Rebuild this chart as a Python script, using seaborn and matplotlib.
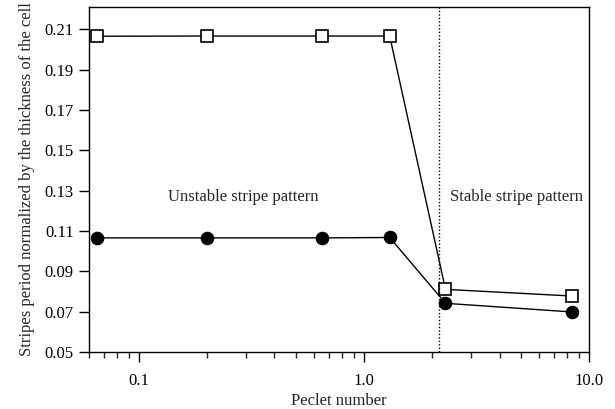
import matplotlib
matplotlib.use("Agg")
import matplotlib.pyplot as plt
import matplotlib.ticker as mticker
import seaborn as sns
import pandas as pd

peclet = [0.065, 0.2, 0.65, 1.3, 2.3, 8.4]
open_squares = [0.2065, 0.2066, 0.2066, 0.2066, 0.0811, 0.0778]
filled_circles = [0.1066, 0.1066, 0.1066, 0.1068, 0.0742, 0.0699]
threshold = 2.15
x_ticks = [0.1, 1.0, 10.0]
x_tick_labels = ["0.1", "1.0", "10.0"]
y_ticks = [0.05, 0.07, 0.09, 0.11, 0.13, 0.15, 0.17, 0.19, 0.21]

sns.set_style("ticks")
plt.rcParams["font.family"] = ["Liberation Serif", "DejaVu Serif"]

df_sq = pd.DataFrame({"Pe": peclet, "v": open_squares})
df_ci = pd.DataFrame({"Pe": peclet, "v": filled_circles})

fig = plt.figure(figsize=(6.15, 4.09), dpi=100)
ax = fig.add_axes([0.1447, 0.139, 0.8133, 0.844])

sns.lineplot(data=df_ci, x="Pe", y="v", ax=ax, color="black", lw=1.0,
             marker="o", markersize=9, markerfacecolor="black",
             markeredgecolor="black", estimator=None, sort=False)
sns.lineplot(data=df_sq, x="Pe", y="v", ax=ax, color="black", lw=1.0,
             marker="s", markersize=8.5, markerfacecolor="white",
             markeredgecolor="black", markeredgewidth=1.2,
             estimator=None, sort=False)

ax.axvline(threshold, color="black", ls=(0, (1, 1.5)), lw=1.0)

ax.set_xscale("log")
ax.set_xlim(0.06, 10.0)
ax.set_ylim(0.05, 0.221)
ax.set_xticks(x_ticks)
ax.set_xticklabels(x_tick_labels)
ax.xaxis.set_minor_locator(mticker.LogLocator(base=10, subs=range(2, 10)))
ax.xaxis.set_minor_formatter(mticker.NullFormatter())
ax.set_yticks(y_ticks)
ax.yaxis.set_major_formatter(mticker.FormatStrFormatter("%.2f"))

ax.tick_params(axis="both", which="major", direction="out", length=7,
               width=1.0, labelsize=12, colors="black", pad=4)
ax.tick_params(axis="x", which="minor", direction="out", length=4, width=1.0)
ax.tick_params(axis="x", which="major", pad=8)

for s in ax.spines.values():
    s.set_visible(True)
    s.set_linewidth(1.0)
    s.set_color("black")

ax.set_xlabel("Peclet number", fontsize=12, labelpad=3)
ax.set_ylabel("Stripes period normalized by the thickness of the cell",
              fontsize=12, labelpad=7)

ax.text(0.29, 0.127, "Unstable stripe pattern", fontsize=12,
        ha="center", va="center")
ax.text(4.74, 0.127, "Stable stripe pattern", fontsize=12,
        ha="center", va="center")

fig.savefig("out.png", dpi=100)
